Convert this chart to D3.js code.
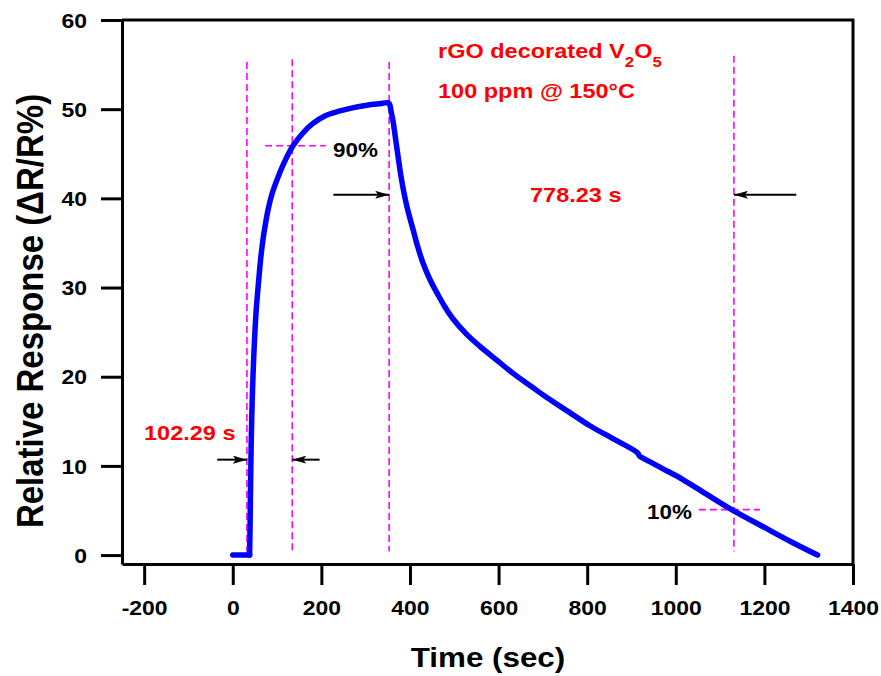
<!DOCTYPE html>
<html>
<head>
<meta charset="utf-8">
<script src="https://cdn.jsdelivr.net/npm/d3@7"></script>
<style>
  html, body { margin: 0; padding: 0; background: #fff; }
  svg { display: block; }
  text { font-family: "Liberation Sans", Arial, Helvetica, sans-serif; font-weight: bold; }
</style>
</head>
<body>
<svg id="chart" width="881" height="676"></svg>
<script>
// Response transient of rGO-decorated V2O5 sensor (100 ppm, 150 °C)
const time = [0, 20, 38, 39, 40, 41, 42, 44, 46, 49, 53, 58, 63, 68, 74, 80, 88, 100, 115, 136, 158, 181, 210, 242, 275, 303, 330, 352,
              355, 358, 362, 368, 374, 381, 393, 407, 418, 429, 445, 461, 478, 497, 527, 558, 595, 632, 674, 708, 760, 806, 860, 914,
              918, 925, 970, 1015, 1070, 1126, 1200, 1260, 1320];
const response = [0, 0, 0, 3, 7, 10.5, 13.5, 17.5, 20.5, 24, 27.5, 30.5, 33.2, 35.3, 37.2, 38.8, 40.4, 42.1, 43.9, 45.9, 47.3, 48.4, 49.3, 49.8, 50.2, 50.45, 50.6, 50.7,
                  50.4, 49.6, 48.6, 46.5, 44.4, 42.1, 39.1, 36.5, 34.5, 32.8, 30.9, 29.4, 27.9, 26.5, 24.8, 23.4, 21.9, 20.4, 18.9, 17.7, 16.0, 14.5, 13.0, 11.45,
                  11.1, 10.9, 9.7, 8.5, 6.8, 5.1, 3.1, 1.5, 0];
const gasOnTime = 38; // end of the flat baseline

const xTicks = [-200, 0, 200, 400, 600, 800, 1000, 1200, 1400];
const yTicks = [0, 10, 20, 30, 40, 50, 60];

// response / recovery markers
const responseStart = 32, responseTime = 102.29;
const recoveryStart = 353, recoveryTime = 778.23;
const level90 = 45.9, level10 = 5.1;

const svg = d3.select("#chart");
const x = d3.scaleLinear().domain([-250, 1400]).range([122, 853]);
const y = d3.scaleLinear().domain([-1, 60]).range([564, 20]);
const SX = 1.12; // horizontal glyph stretch
const fmt = d => String(d);

// plot frame (top and right edges)
svg.append("path")
  .attr("d", `M${x(-250)},${y(60)}H${x(1400)}V${y(-1)}`)
  .attr("fill", "none").attr("stroke", "#000").attr("stroke-width", 3);

// axes
const gx = svg.append("g").attr("transform", `translate(0,${y(-1)})`)
  .call(d3.axisBottom(x).tickValues(xTicks).tickFormat(fmt).tickSize(21).tickSizeOuter(0));
const gy = svg.append("g").attr("transform", `translate(${x(-250)},0)`)
  .call(d3.axisLeft(y).tickValues(yTicks).tickFormat(fmt).tickSize(21).tickSizeOuter(0));
[gx, gy].forEach(g => {
  g.select(".domain").attr("stroke", "#000").attr("stroke-width", 3);
  g.selectAll(".tick line").attr("stroke", "#000").attr("stroke-width", 3);
  g.selectAll(".tick text").attr("fill", "#000").attr("font-size", 20.5)
    .attr("font-family", "Liberation Sans, Arial, sans-serif").attr("font-weight", "bold");
});
gx.selectAll(".tick text").attr("y", null).attr("dy", null).attr("text-anchor", "middle")
  .attr("transform", `translate(0,51) scale(${SX},1)`);
gy.selectAll(".tick text").attr("x", null).attr("dy", "0.35em").attr("text-anchor", "end")
  .attr("transform", `translate(-35,0) scale(${SX},1)`);

// axis titles
svg.append("text").attr("transform", `translate(488,667) scale(${SX},1)`)
  .attr("text-anchor", "middle").attr("font-size", 28).attr("fill", "#000").text("Time (sec)");
svg.append("text").attr("transform", `translate(43,311) scale(${SX},1) rotate(-90)`)
  .attr("text-anchor", "middle").attr("font-size", 33).attr("fill", "#000").text("Relative Response (\u0394R/R%)");

// guide lines
const dash = "7,4";
const vLines = [
  { t: responseStart, top: 55.3 },
  { t: responseStart + responseTime, top: 55.6 },
  { t: recoveryStart, top: 55.3 },
  { t: recoveryStart + recoveryTime, top: 56 }
];
svg.append("g").selectAll("line").data(vLines).join("line")
  .attr("x1", d => x(d.t)).attr("x2", d => x(d.t))
  .attr("y1", d => y(d.top)).attr("y2", y(0.4))
  .attr("stroke", "#ff00ff").attr("stroke-width", 1.6).attr("stroke-dasharray", dash);

const hLines = [
  { v: level90, t0: 73, t1: 210 },
  { v: level10, t0: 1052, t1: 1190 }
];
svg.append("g").selectAll("line").data(hLines).join("line")
  .attr("x1", d => x(d.t0)).attr("x2", d => x(d.t1))
  .attr("y1", d => y(d.v)).attr("y2", d => y(d.v))
  .attr("stroke", "#ff00ff").attr("stroke-width", 1.6).attr("stroke-dasharray", dash);

// response curve: straight baseline, then smooth rise and recovery
const pts = time.map((t, i) => [t, response[i]]);
const baseline = pts.filter(d => d[0] <= gasOnTime);
const transient = pts.filter(d => d[0] >= gasOnTime);
const curveStyle = p => p.attr("fill", "none").attr("stroke", "#0000ff").attr("stroke-width", 5.5)
  .attr("stroke-linecap", "round").attr("stroke-linejoin", "round");
svg.append("path").datum(baseline)
  .attr("d", d3.line().x(d => x(d[0])).y(d => y(d[1])))
  .call(curveStyle);
svg.append("path").datum(transient)
  .attr("d", d3.line().x(d => x(d[0])).y(d => y(d[1])).curve(d3.curveCatmullRom.alpha(0.5)))
  .call(curveStyle);

// arrows
svg.append("defs").append("marker")
  .attr("id", "head").attr("markerUnits", "userSpaceOnUse")
  .attr("viewBox", "0 0 14 8").attr("refX", 14).attr("refY", 4)
  .attr("markerWidth", 14).attr("markerHeight", 8).attr("orient", "auto")
  .append("path").attr("d", "M0,0L14,4L0,8L3,4Z").attr("fill", "#000");

const arrows = [
  { from: -35, to: responseStart, v: 10.7 },
  { from: 196, to: responseStart + responseTime, v: 10.7 },
  { from: 227, to: recoveryStart, v: 40.4 },
  { from: 1272, to: recoveryStart + recoveryTime, v: 40.4 }
];
svg.append("g").selectAll("line").data(arrows).join("line")
  .attr("x1", d => x(d.from)).attr("x2", d => x(d.to))
  .attr("y1", d => y(d.v)).attr("y2", d => y(d.v))
  .attr("stroke", "#000").attr("stroke-width", 2).attr("marker-end", "url(#head)");

// annotations
function label(px, py, str, color, size) {
  return svg.append("text").attr("transform", `translate(${px},${py}) scale(${SX},1)`)
    .attr("font-size", size).attr("fill", color).text(str);
}
label(144, 440, responseTime.toFixed(2) + " s", "#ff0000", 21);
label(530, 202, recoveryTime.toFixed(2) + " s", "#ff0000", 21);
label(333, 157, "90%", "#000", 20);
label(647, 519, "10%", "#000", 20);

const t1 = svg.append("text").attr("transform", `translate(438,58) scale(${SX},1)`)
  .attr("font-size", 21).attr("fill", "#ff0000");
t1.append("tspan").text("rGO decorated V");
t1.append("tspan").attr("font-size", 15).attr("dy", 9).text("2");
t1.append("tspan").attr("dy", -9).text("O");
t1.append("tspan").attr("font-size", 15).attr("dy", 9).text("5");
label(438, 98, "100 ppm @ 150\u00B0C", "#ff0000", 21);
</script>
</body>
</html>
